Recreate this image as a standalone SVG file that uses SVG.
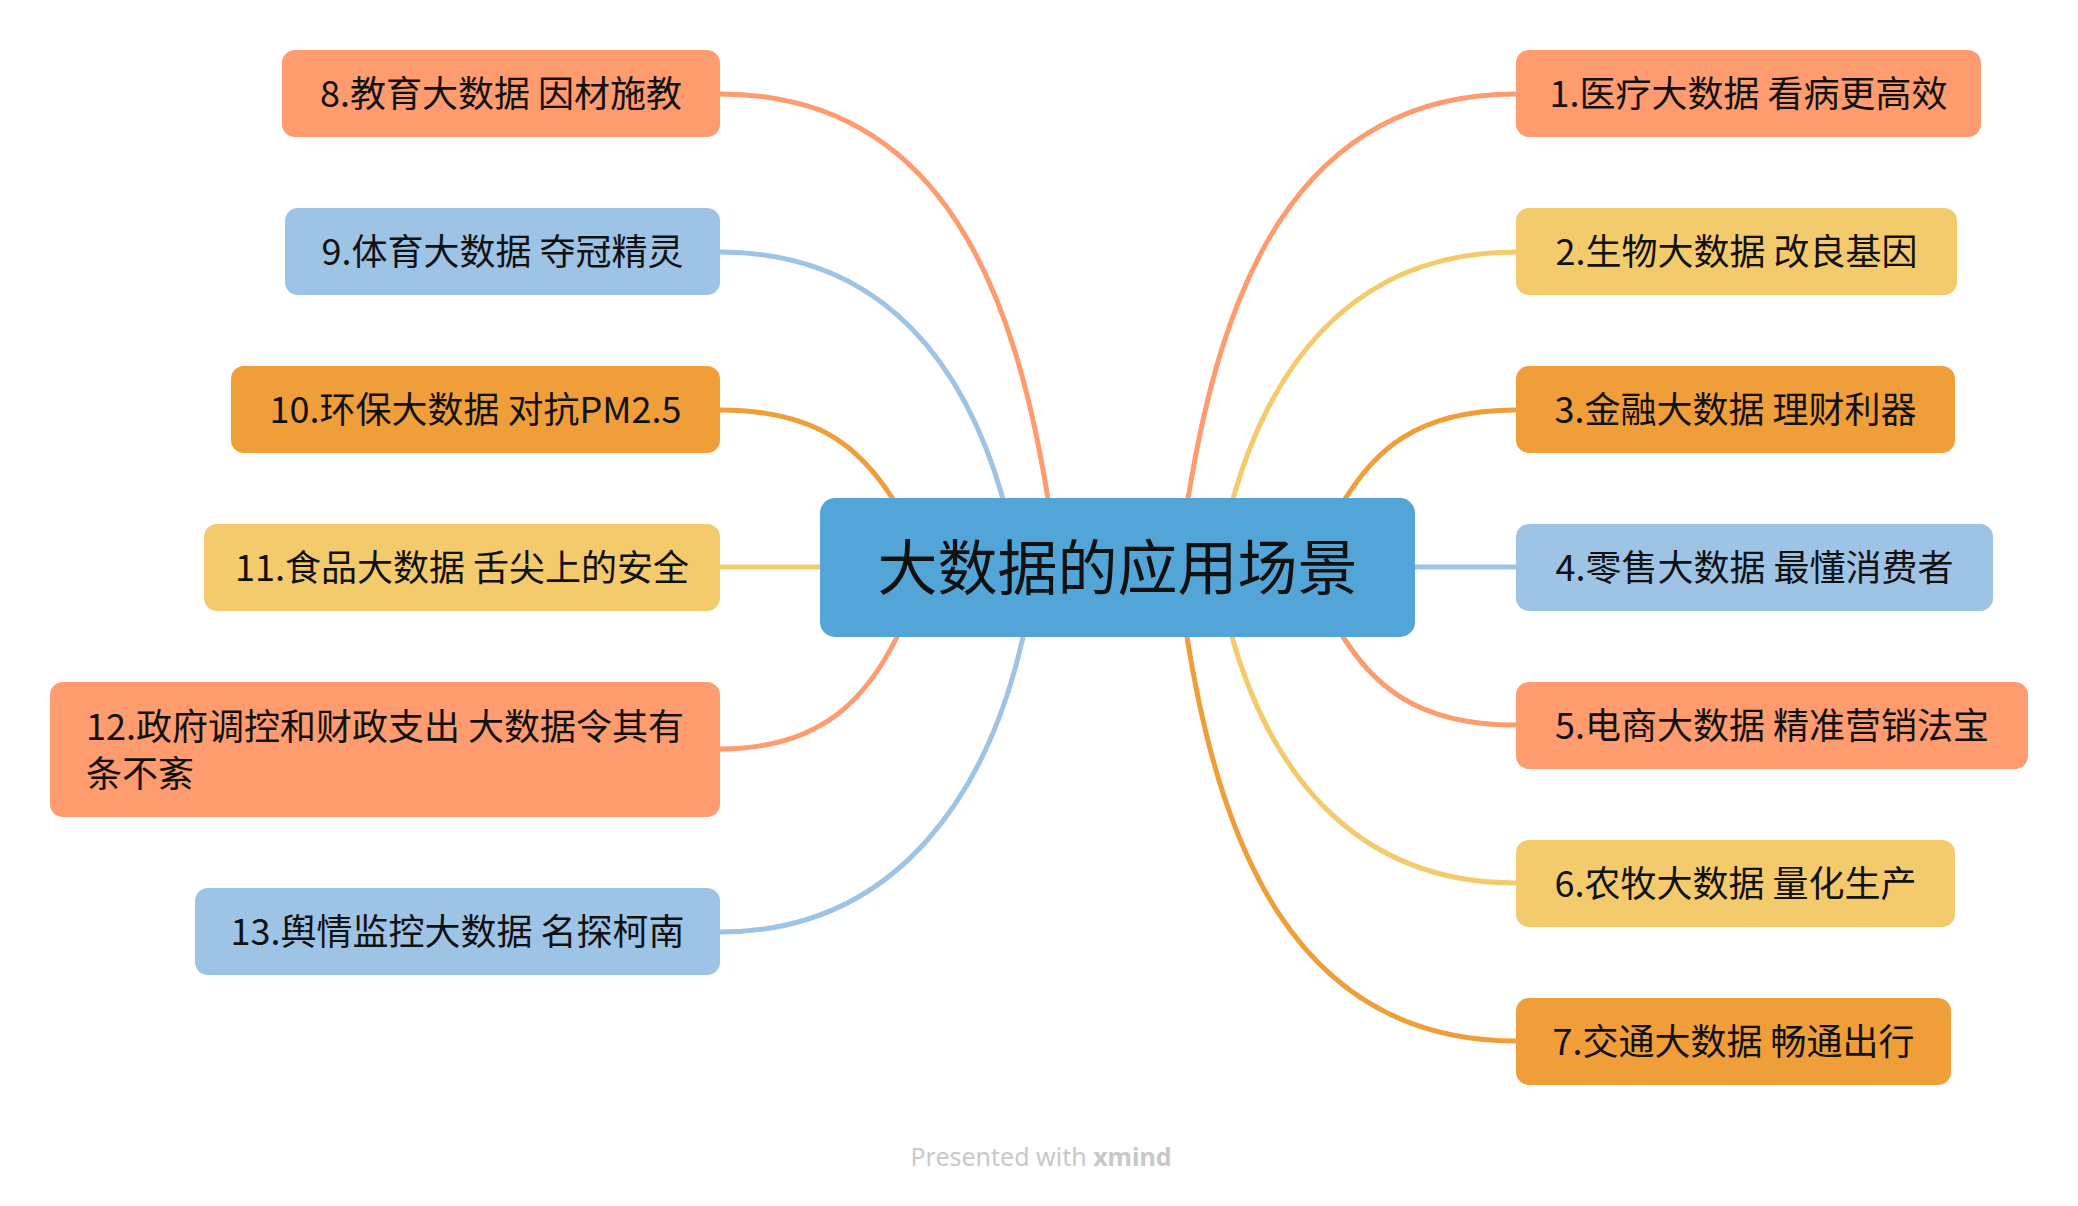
<svg xmlns="http://www.w3.org/2000/svg" width="2078" height="1206" viewBox="0 0 2078 1206">
<style>
.bg{fill:#ffffff}
.ln{fill:none;stroke-width:5;stroke-linecap:round}
.c1{stroke:#FE9C6F}.c2{stroke:#F4CB6C}.c3{stroke:#F09E3A}.c4{stroke:#9DC3E5}
.f1{fill:#FE9C6F}.f2{fill:#F4CB6C}.f3{fill:#F09E3A}.f4{fill:#9DC3E5}
.root{fill:#52A5D6}
.t{font-family:"Noto Sans CJK SC","Noto Sans",sans-serif;font-size:36px;fill:#111111;text-anchor:middle}
.tl{font-family:"Noto Sans CJK SC","Noto Sans",sans-serif;font-size:36px;fill:#111111}
.tr{font-family:"Noto Sans CJK SC","Noto Sans",sans-serif;font-size:60px;fill:#111111;text-anchor:middle}
.ft{font-family:"Noto Sans","Open Sans",sans-serif;font-size:25px;fill:#C8C8C8;text-anchor:middle}
</style>
<rect class="bg" x="0" y="0" width="2078" height="1206"/>
<g id="connectors">
<path class="ln c1" d="M1188,499 C1220,300 1290,94 1516,94"/>
<path class="ln c2" d="M1233,499 C1268,375 1346,252 1516,252"/>
<path class="ln c3" d="M1345,499 C1374,454 1413,410 1516,410"/>
<path class="ln c4" d="M1415,567 L1516,567"/>
<path class="ln c1" d="M1343,637 C1372,681 1412,725 1516,725"/>
<path class="ln c2" d="M1232,637 C1267,760 1346,883 1516,883"/>
<path class="ln c3" d="M1187,637 C1219,836 1290,1041 1516,1041"/>
<path class="ln c1" d="M1048,499 C1016,300 946,94 720,94"/>
<path class="ln c4" d="M1003,499 C968,375 890,252 720,252"/>
<path class="ln c3" d="M893,499 C864,454 823,410 720,410"/>
<path class="ln c2" d="M820,567 L720,567"/>
<path class="ln c1" d="M897,637 C869,693 826,749 720,749"/>
<path class="ln c4" d="M1023,637 C990,785 902,932 720,932"/>
</g>
<g id="root">
<rect class="root" x="820" y="498" width="595" height="139" rx="15"/>
<text class="tr" x="1117.5" y="590">大数据的应用场景</text>
</g>
<g id="n1"><rect class="f1" x="1516" y="50" width="465" height="87" rx="13"/><text class="t" x="1748.5" y="107">1.医疗大数据 看病更高效</text></g>
<g id="n2"><rect class="f2" x="1516" y="208" width="441" height="87" rx="13"/><text class="t" x="1736.5" y="265">2.生物大数据 改良基因</text></g>
<g id="n3"><rect class="f3" x="1516" y="366" width="439" height="87" rx="13"/><text class="t" x="1735.5" y="423">3.金融大数据 理财利器</text></g>
<g id="n4"><rect class="f4" x="1516" y="524" width="477" height="87" rx="13"/><text class="t" x="1754.5" y="581">4.零售大数据 最懂消费者</text></g>
<g id="n5"><rect class="f1" x="1516" y="682" width="512" height="87" rx="13"/><text class="t" x="1772" y="739">5.电商大数据 精准营销法宝</text></g>
<g id="n6"><rect class="f2" x="1516" y="840" width="439" height="87" rx="13"/><text class="t" x="1735.5" y="897">6.农牧大数据 量化生产</text></g>
<g id="n7"><rect class="f3" x="1516" y="998" width="435" height="87" rx="13"/><text class="t" x="1733.5" y="1055">7.交通大数据 畅通出行</text></g>
<g id="n8"><rect class="f1" x="282" y="50" width="438" height="87" rx="13"/><text class="t" x="501" y="107">8.教育大数据 因材施教</text></g>
<g id="n9"><rect class="f4" x="285" y="208" width="435" height="87" rx="13"/><text class="t" x="502.5" y="265">9.体育大数据 夺冠精灵</text></g>
<g id="n10"><rect class="f3" x="231" y="366" width="489" height="87" rx="13"/><text class="t" x="475.5" y="423">10.环保大数据 对抗PM2.5</text></g>
<g id="n11"><rect class="f2" x="204" y="524" width="516" height="87" rx="13"/><text class="t" x="462" y="581">11.食品大数据 舌尖上的安全</text></g>
<g id="n12"><rect class="f1" x="50" y="682" width="670" height="135" rx="13"/><text class="tl" x="86" y="740">12.政府调控和财政支出 大数据令其有</text><text class="tl" x="86" y="787">条不紊</text></g>
<g id="n13"><rect class="f4" x="195" y="888" width="525" height="87" rx="13"/><text class="t" x="457.5" y="945">13.舆情监控大数据 名探柯南</text></g>
<text class="ft" x="1041" y="1166">Presented with <tspan font-weight="bold">xmind</tspan></text>
</svg>
